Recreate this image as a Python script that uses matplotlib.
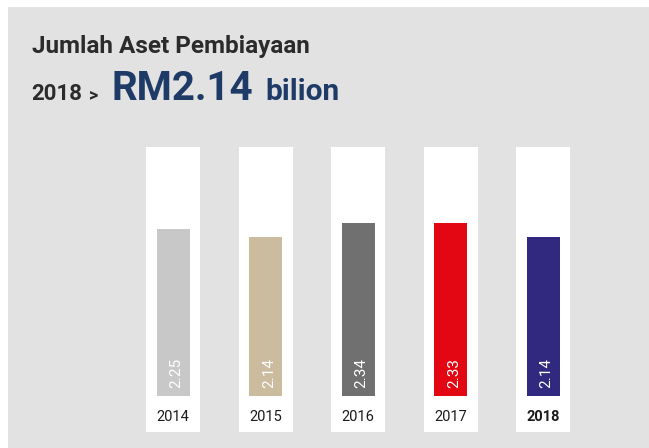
import matplotlib
matplotlib.use("Agg")
import matplotlib.pyplot as plt
from matplotlib.patches import Rectangle

years = ["2014", "2015", "2016", "2017", "2018"]
values = [2.25, 2.14, 2.34, 2.33, 2.14]
bar_colors = ["#c8c8c8", "#cbbb9f", "#707070", "#e30613", "#312880"]
value_labels = ["2.25", "2.14", "2.34", "2.33", "2.14"]

plt.rcParams["font.family"] = ["Roboto", "DejaVu Sans"]

W, H = 649, 448
fig = plt.figure(figsize=(W / 100, H / 100), dpi=100)
fig.patch.set_facecolor("white")

# grey panel behind everything
fig.patches.append(Rectangle((8 / W, 0), 1 - 8 / W, 1 - 7 / H, transform=fig.transFigure,
                             facecolor="#e2e2e2", edgecolor="none", zorder=-5))

def fx(px):
    return px / W

def fy(py):
    return 1 - py / H

# titles
fig.text(fx(32), fy(53), "Jumlah Aset Pembiayaan", fontsize=17.5, fontweight="bold",
         color="#2b2b2b", va="baseline")
fig.text(fx(31), fy(100), "2018", fontsize=16, fontweight="bold", color="#2b2b2b", va="baseline")
fig.text(fx(89), fy(100), ">", fontsize=13, fontweight="bold", color="#2b2b2b", va="baseline")
fig.text(fx(112), fy(100), "RM2.14", fontsize=29, fontweight="bold", color="#1e3a66", va="baseline")
fig.text(fx(265), fy(100), "bilion", fontsize=21.5, fontweight="bold", color="#1e3a66", va="baseline")

# bars axes: column centres at 173..543 px, baseline at 396 px, 74.1 px per unit
unit = 74.1
y_bot = (396 - 432) / unit
y_top = (396 - 147) / unit
ax = fig.add_axes([fx(126.75), fy(432), (589.25 - 126.75) / W, (432 - 147) / H])
ax.set_xlim(-0.5, 4.5)
ax.set_ylim(y_bot, y_top)
ax.axis("off")
ax.patch.set_alpha(0)

x = list(range(len(years)))
ax.bar(x, [y_top - y_bot] * len(x), bottom=y_bot, width=54 / 92.5, color="white", zorder=1)
ax.bar(x, values, width=33 / 92.5, color=bar_colors, zorder=2)

for i, (yr, lab) in enumerate(zip(years, value_labels)):
    ax.text(i + 0.04, 8 / unit, lab, rotation=90, color="white", fontsize=11,
            ha="center", va="bottom", zorder=3)
    ax.text(i, (396 - 417) / unit, yr, fontsize=10.5, color="#1a1a1a",
            fontweight="bold" if yr == "2018" else "normal",
            ha="center", va="center", zorder=3)

fig.savefig("out.png", dpi=100, facecolor=fig.get_facecolor())
